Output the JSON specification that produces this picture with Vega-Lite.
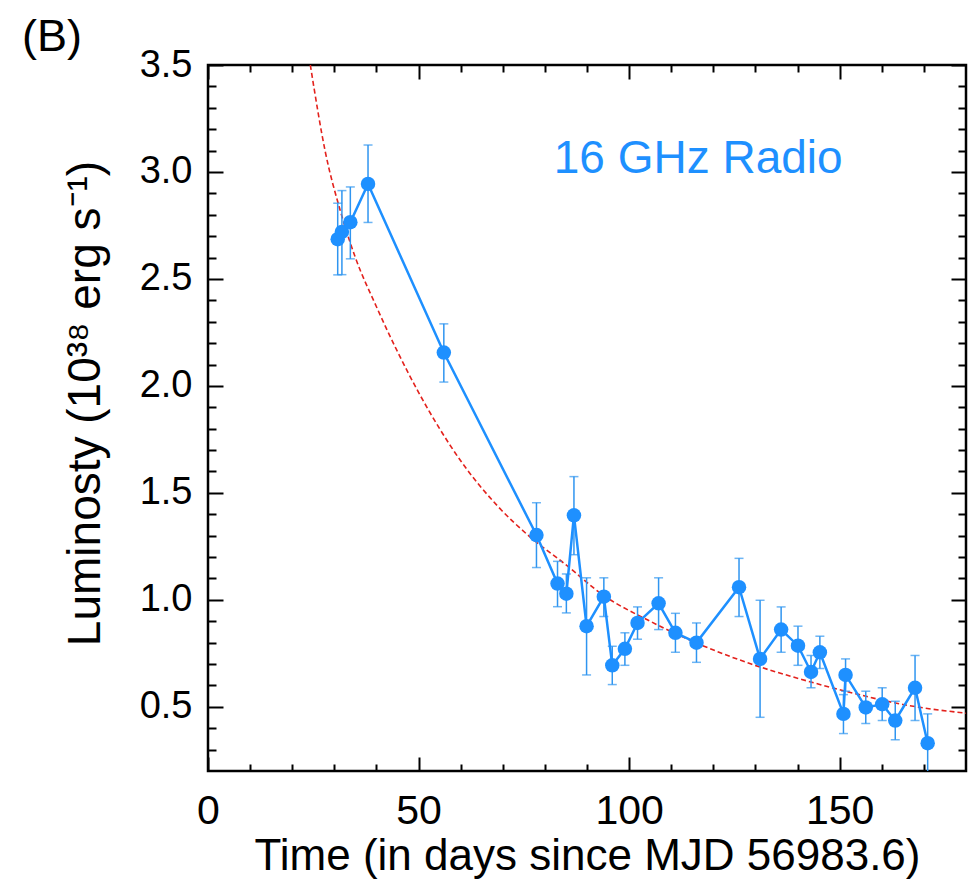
{
  "$schema": "https://vega.github.io/schema/vega-lite/v6.json",
  "width": 758,
  "height": 706,
  "autosize": {"type": "none"},
  "padding": {"left": 208, "top": 65, "right": 10, "bottom": 114},
  "background": "white",
  "title": {"text": "(B)", "anchor": "start", "frame": "group", "fontSize": 45, "fontWeight": "normal", "font": "Liberation Sans", "color": "black", "dx": -186, "dy": 57, "baseline": "alphabetic", "offset": 7},
  "config": {
    "view": {"stroke": "black", "strokeWidth": 2.5},
    "font": "Liberation Sans",
    "axis": {"domain": false, "grid": false, "tickColor": "black", "tickWidth": 2, "labelColor": "black", "titleColor": "black", "labelFont": "Liberation Sans", "titleFont": "Liberation Sans", "titleFontWeight": "normal"}
  },
  "datasets": {
    "obs": [
      {"t": 30.8, "L": 2.686, "lo": 2.519, "hi": 2.854},
      {"t": 31.8, "L": 2.72, "lo": 2.52, "hi": 2.913},
      {"t": 33.8, "L": 2.765, "lo": 2.594, "hi": 2.93},
      {"t": 38.0, "L": 2.944, "lo": 2.764, "hi": 3.126},
      {"t": 56.0, "L": 2.156, "lo": 2.018, "hi": 2.29},
      {"t": 78.0, "L": 1.303, "lo": 1.151, "hi": 1.454},
      {"t": 83.0, "L": 1.076, "lo": 0.968, "hi": 1.18},
      {"t": 85.1, "L": 1.029, "lo": 0.939, "hi": 1.121},
      {"t": 86.9, "L": 1.395, "lo": 1.211, "hi": 1.576},
      {"t": 89.9, "L": 0.877, "lo": 0.649, "hi": 1.103},
      {"t": 94.0, "L": 1.015, "lo": 0.922, "hi": 1.103},
      {"t": 96.0, "L": 0.694, "lo": 0.604, "hi": 0.783},
      {"t": 99.0, "L": 0.771, "lo": 0.694, "hi": 0.846},
      {"t": 102.0, "L": 0.892, "lo": 0.816, "hi": 0.967},
      {"t": 107.0, "L": 0.984, "lo": 0.861, "hi": 1.103},
      {"t": 111.0, "L": 0.846, "lo": 0.755, "hi": 0.937},
      {"t": 116.0, "L": 0.8, "lo": 0.708, "hi": 0.892},
      {"t": 126.1, "L": 1.059, "lo": 0.922, "hi": 1.194},
      {"t": 131.1, "L": 0.724, "lo": 0.451, "hi": 0.998},
      {"t": 136.1, "L": 0.861, "lo": 0.755, "hi": 0.967},
      {"t": 140.1, "L": 0.786, "lo": 0.694, "hi": 0.877},
      {"t": 143.2, "L": 0.663, "lo": 0.589, "hi": 0.74},
      {"t": 145.3, "L": 0.755, "lo": 0.679, "hi": 0.83},
      {"t": 150.9, "L": 0.467, "lo": 0.375, "hi": 0.557},
      {"t": 151.4, "L": 0.649, "lo": 0.573, "hi": 0.724},
      {"t": 156.2, "L": 0.497, "lo": 0.422, "hi": 0.573},
      {"t": 160.1, "L": 0.512, "lo": 0.436, "hi": 0.589},
      {"t": 163.2, "L": 0.436, "lo": 0.346, "hi": 0.526},
      {"t": 167.9, "L": 0.589, "lo": 0.436, "hi": 0.74},
      {"t": 170.9, "L": 0.33, "lo": 0.19, "hi": 0.467}
    ],
    "fit": [
      {"t": 24.3, "L": 3.5},
      {"t": 27.9, "L": 3.09},
      {"t": 31.4, "L": 2.82},
      {"t": 35.0, "L": 2.6},
      {"t": 40.0, "L": 2.37},
      {"t": 45.0, "L": 2.16},
      {"t": 50.0, "L": 1.97},
      {"t": 55.0, "L": 1.8},
      {"t": 60.0, "L": 1.65},
      {"t": 68.7, "L": 1.44},
      {"t": 76.7, "L": 1.29},
      {"t": 84.6, "L": 1.17},
      {"t": 94.0, "L": 1.02},
      {"t": 105.0, "L": 0.9},
      {"t": 117.0, "L": 0.79},
      {"t": 129.0, "L": 0.7},
      {"t": 141.0, "L": 0.628},
      {"t": 153.0, "L": 0.565},
      {"t": 165.0, "L": 0.511},
      {"t": 180.5, "L": 0.469}
    ],
    "label": [{"name": "16 GHz Radio"}]
  },
  "layer": [
    {
      "data": {"name": "fit"},
      "mark": {"type": "line", "color": "#E3211C", "strokeWidth": 1.6, "strokeDash": [5, 3], "interpolate": "monotone", "clip": true},
      "encoding": {
        "x": {"field": "t", "type": "quantitative", "scale": {"domain": [0, 180], "nice": false, "zero": false},
          "axis": {"orient": "bottom", "values": [0, 50, 100, 150], "tickSize": -14, "labelFontSize": 41, "labelPadding": 34, "labelFlush": false, "title": "Time (in days since MJD 56983.6)", "titleFontSize": 44, "titlePadding": 3}},
        "y": {"field": "L", "type": "quantitative", "scale": {"domain": [0.2, 3.5], "nice": false, "zero": false},
          "axis": {"orient": "left", "values": [0.5, 1.0, 1.5, 2.0, 2.5, 3.0, 3.5], "format": ".1f", "tickSize": -15, "labelFontSize": 38, "labelPadding": 31, "labelFlush": false, "title": "Luminosty (10³⁸ erg s⁻¹)", "titleFontSize": 46, "titlePadding": 30, "titleY": 338}}
      }
    },
    {
      "data": {"name": "obs"},
      "mark": {"type": "rule", "color": "#2F95F0", "strokeWidth": 1.5, "clip": true},
      "encoding": {
        "x": {"field": "t", "type": "quantitative", "axis": {"orient": "bottom", "values": [10, 20, 30, 40, 60, 70, 80, 90, 110, 120, 130, 140, 160, 170], "tickSize": -7, "labels": false, "title": null}},
        "y": {"field": "lo", "type": "quantitative", "axis": {"orient": "left", "values": [0.3, 0.4, 0.6, 0.7, 0.8, 0.9, 1.1, 1.2, 1.3, 1.4, 1.6, 1.7, 1.8, 1.9, 2.1, 2.2, 2.3, 2.4, 2.6, 2.7, 2.8, 2.9, 3.1, 3.2, 3.3, 3.4], "tickSize": -8, "labels": false, "title": null}},
        "y2": {"field": "hi"}
      }
    },
    {
      "data": {"name": "obs"},
      "mark": {"type": "tick", "orient": "horizontal", "color": "#2F95F0", "size": 9, "thickness": 1.5, "clip": true},
      "encoding": {
        "x": {"field": "t", "type": "quantitative", "axis": {"orient": "top", "values": [0, 50, 100, 150], "tickSize": -14, "labels": false, "title": null}},
        "y": {"field": "hi", "type": "quantitative", "axis": {"orient": "right", "values": [0.5, 1.0, 1.5, 2.0, 2.5, 3.0, 3.5], "tickSize": -15, "labels": false, "title": null}}
      }
    },
    {
      "data": {"name": "obs"},
      "mark": {"type": "tick", "orient": "horizontal", "color": "#2F95F0", "size": 9, "thickness": 1.5, "clip": true},
      "encoding": {
        "x": {"field": "t", "type": "quantitative", "axis": {"orient": "top", "values": [10, 20, 30, 40, 60, 70, 80, 90, 110, 120, 130, 140, 160, 170], "tickSize": -7, "labels": false, "title": null}},
        "y": {"field": "lo", "type": "quantitative", "axis": {"orient": "right", "values": [0.3, 0.4, 0.6, 0.7, 0.8, 0.9, 1.1, 1.2, 1.3, 1.4, 1.6, 1.7, 1.8, 1.9, 2.1, 2.2, 2.3, 2.4, 2.6, 2.7, 2.8, 2.9, 3.1, 3.2, 3.3, 3.4], "tickSize": -8, "labels": false, "title": null}}
      }
    },
    {
      "data": {"name": "obs"},
      "mark": {"type": "line", "color": "#1E90FF", "strokeWidth": 2.5, "clip": true},
      "encoding": {
        "x": {"field": "t", "type": "quantitative", "axis": null},
        "y": {"field": "L", "type": "quantitative", "axis": null}
      }
    },
    {
      "data": {"name": "obs"},
      "mark": {"type": "circle", "color": "#1E90FF", "size": 210, "opacity": 1, "clip": true},
      "encoding": {
        "x": {"field": "t", "type": "quantitative", "axis": null},
        "y": {"field": "L", "type": "quantitative", "axis": null}
      }
    },
    {
      "data": {"name": "label"},
      "mark": {"type": "text", "color": "#1E90FF", "fontSize": 46, "font": "Liberation Sans", "align": "center", "baseline": "alphabetic"},
      "encoding": {
        "text": {"field": "name", "type": "nominal"},
        "x": {"datum": 116.4, "type": "quantitative", "axis": null},
        "y": {"datum": 2.996, "type": "quantitative", "axis": null}
      }
    }
  ],
  "resolve": {"axis": {"x": "independent", "y": "independent"}}
}
